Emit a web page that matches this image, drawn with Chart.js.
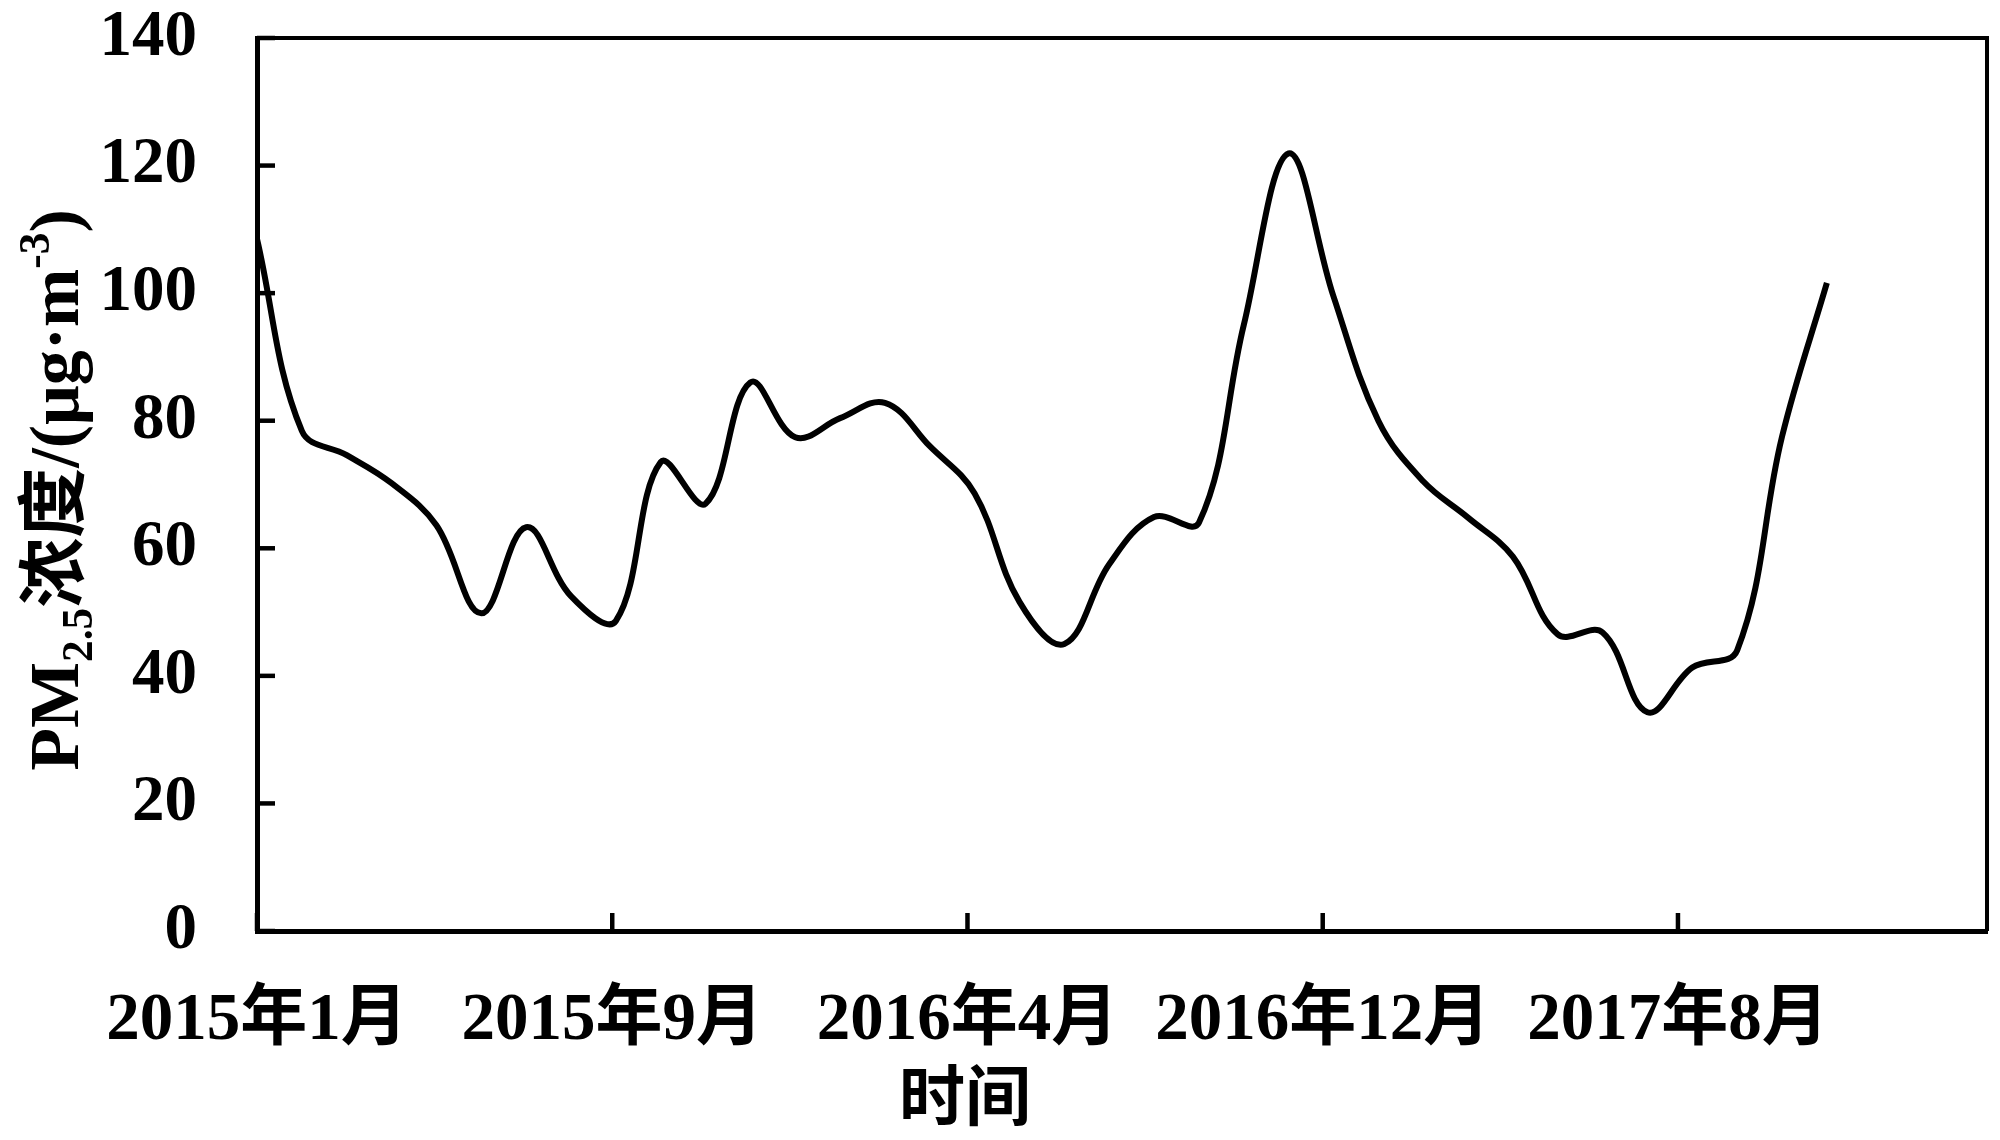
<!DOCTYPE html>
<html>
<head>
<meta charset="utf-8">
<script src="https://cdn.jsdelivr.net/npm/chart.js@4"></script>
<style>
    html, body { margin: 0; padding: 0; background: #fff; }
    #wrap { width: 2000px; height: 1140px; }
</style>
</head>
<body>
<div id="wrap"><canvas id="pmChart" width="2000" height="1140"></canvas></div>
<script>
        // monthly PM2.5 means, 2015-01 .. 2017-12
        const months = [
            '2015年1月', '2015年2月', '2015年3月', '2015年4月', '2015年5月', '2015年6月',
            '2015年7月', '2015年8月', '2015年9月', '2015年10月', '2015年11月', '2015年12月',
            '2016年1月', '2016年2月', '2016年3月', '2016年4月', '2016年5月', '2016年6月',
            '2016年7月', '2016年8月', '2016年9月', '2016年10月', '2016年11月', '2016年12月',
            '2017年1月', '2017年2月', '2017年3月', '2017年4月', '2017年5月', '2017年6月',
            '2017年7月', '2017年8月', '2017年9月', '2017年10月', '2017年11月', '2017年12月'
        ];
        const pm25 = [
            108.5, 78.4, 74.6, 70.2, 63.6, 49.8, 63.3, 52.5, 48.6, 73.5, 67.0, 86.0,
            77.4, 80.4, 82.8, 76.0, 68.6, 51.6, 45.0, 57.5, 64.9, 64.0, 95.0, 121.9,
            99.5, 80.0, 70.5, 64.8, 58.7, 46.5, 46.8, 34.3, 41.3, 44.0, 77.5, 101.6
        ];

        // x axis: labelled ticks (in months from 2015-01) and axis end
        const tickLabels = ['2015年1月', '2015年9月', '2016年4月', '2016年12月', '2017年8月'];
        const tickStep = 7.92;
        const xMax = 38.57;

        const yMin = 0, yMax = 140, yStep = 20;

        const FONT = '"Liberation Serif", "Noto Sans CJK SC", serif';

        const frame = {
            id: 'frame',
            afterDraw(chart) {
                const { ctx, chartArea: a, scales } = chart;
                ctx.save();
                ctx.strokeStyle = '#000';
                ctx.fillStyle = '#000';

                // top + right border
                ctx.lineWidth = 4;
                ctx.beginPath();
                ctx.moveTo(a.left, a.top);
                ctx.lineTo(a.right, a.top);
                ctx.lineTo(a.right, a.bottom);
                ctx.stroke();

                // inward tick marks
                ctx.lineWidth = 4.5;
                scales.y.ticks.forEach(t => {
                    const y = scales.y.getPixelForValue(t.value);
                    ctx.beginPath();
                    ctx.moveTo(a.left, y);
                    ctx.lineTo(a.left + 18, y);
                    ctx.stroke();
                });
                scales.x.ticks.forEach(t => {
                    const x = scales.x.getPixelForValue(t.value);
                    ctx.beginPath();
                    ctx.moveTo(x, a.bottom);
                    ctx.lineTo(x, a.bottom - 18);
                    ctx.stroke();
                });

                // x title
                ctx.font = 'bold 66px ' + FONT;
                ctx.textAlign = 'center';
                ctx.textBaseline = 'middle';
                ctx.fillText('时间', 965, 1103);

                // y title, rotated, with sub/superscripts
                const size = 70;
                const parts = [
                    { t: 'PM', s: 1, dy: 0 },
                    { t: '2.5', s: 0.62, dy: 0.2 },
                    { t: '浓度', s: 1, dy: 0 },
                    { t: '/(μg·m', s: 1, dy: 0 },
                    { t: '-3', s: 0.62, dy: -0.42 },
                    { t: ')', s: 1, dy: 0 }
                ];
                let total = 0;
                parts.forEach(p => {
                    ctx.font = 'bold ' + (size * p.s) + 'px ' + FONT;
                    p.w = ctx.measureText(p.t).width;
                    total += p.w;
                });
                ctx.translate(78, 490);
                ctx.rotate(-Math.PI / 2);
                ctx.textAlign = 'left';
                ctx.textBaseline = 'alphabetic';
                let cx = -total / 2;
                parts.forEach(p => {
                    ctx.font = 'bold ' + (size * p.s) + 'px ' + FONT;
                    ctx.fillText(p.t, cx, p.dy * size);
                    cx += p.w;
                });
                ctx.restore();
            }
        };

        new Chart(document.getElementById('pmChart'), {
            type: 'line',
            data: {
                datasets: [{
                    label: 'PM2.5',
                    data: pm25.map((v, i) => ({ x: i, y: v })),
                    borderColor: '#000',
                    borderWidth: 6,
                    tension: 0.38,
                    pointRadius: 0,
                    fill: false
                }]
            },
            options: {
                responsive: false,
                animation: false,
                devicePixelRatio: 1,
                layout: { padding: { top: 38, right: 13, left: 0, bottom: 0 } },
                plugins: {
                    legend: { display: false },
                    tooltip: {
                        callbacks: { title: items => months[items[0].parsed.x] }
                    }
                },
                scales: {
                    x: {
                        type: 'linear',
                        min: 0,
                        max: xMax,
                        grid: { display: false, drawTicks: false },
                        border: { display: true, color: '#000', width: 5 },
                        afterBuildTicks: scale => {
                            scale.ticks = tickLabels.map((l, i) => ({ value: i * tickStep }));
                        },
                        afterFit: scale => {
                            scale.height = 1140 - 931;
                            scale.paddingLeft = 0;
                            scale.paddingRight = 0;
                        },
                        ticks: {
                            autoSkip: false,
                            maxRotation: 0,
                            padding: 50,
                            color: '#000',
                            font: { family: FONT, size: 67, weight: 'bold' },
                            callback: (v, i) => tickLabels[i]
                        }
                    },
                    y: {
                        min: yMin,
                        max: yMax,
                        grid: { display: false, drawTicks: false },
                        border: { display: true, color: '#000', width: 5 },
                        afterFit: scale => {
                            scale.width = 257;
                            scale.paddingTop = 0;
                            scale.paddingBottom = 0;
                        },
                        ticks: {
                            stepSize: yStep,
                            padding: 60,
                            color: '#000',
                            font: { family: FONT, size: 65, weight: 'bold' }
                        }
                    }
                }
            },
            plugins: [frame]
        });
</script>
</body>
</html>
